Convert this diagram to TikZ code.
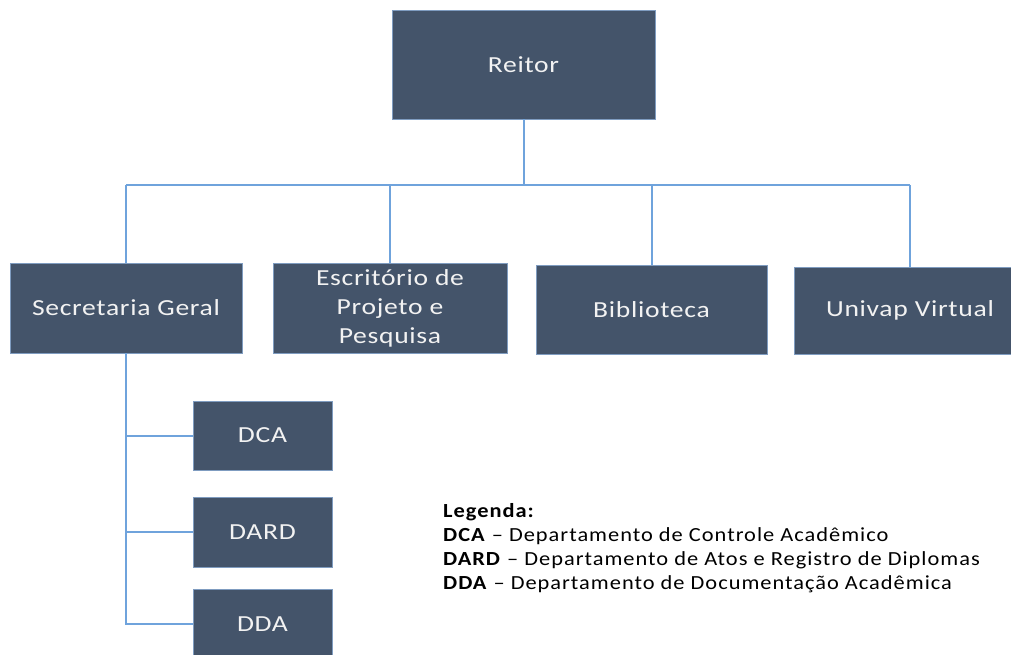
\documentclass[tikz,border=0pt]{standalone}
\usepackage{fontspec}
\setmainfont{Carlito}
\newfontfamily\boxfont[FakeStretch=1.2,LetterSpace=3]{Carlito}
\newfontfamily\legfont[FakeStretch=1.12,LetterSpace=5]{Carlito}
\definecolor{boxfill}{HTML}{44546A}
\definecolor{boxedge}{HTML}{7F9CC0}
\definecolor{linkc}{HTML}{6FA3DC}
\definecolor{boxtext}{HTML}{F2F2F2}
\begin{document}
\begin{tikzpicture}[x=1pt,y=-1pt,
  orgbox/.style={fill=boxfill,draw=boxedge,line width=0.8pt,text=boxtext,
    font=\boxfont\fontsize{23}{29}\selectfont,align=center,inner sep=0pt},
  link/.style={draw=linkc,line width=2pt}]
\useasboundingbox (0,0) rectangle (1011,655);
\node[orgbox,minimum width=263pt,minimum height=109pt] (reitor) at (523.5,64.5) {Reitor};
\node[orgbox,minimum width=232pt,minimum height=90pt] (sg) at (126,308) {Secretaria Geral};
\node[orgbox,minimum width=234pt,minimum height=90pt] (esc) at (390,308) {Escritório de\\Projeto e\\Pesquisa};
\node[orgbox,minimum width=231pt,minimum height=89pt] (bib) at (651.5,309.5) {Biblioteca};
\node[orgbox,minimum width=232pt,minimum height=87pt] (uni) at (910,310.5) {Univap Virtual};
\node[orgbox,minimum width=139pt,minimum height=69pt] (dca) at (262.5,435.5) {DCA};
\node[orgbox,minimum width=139pt,minimum height=70pt] (dard) at (262.5,532) {DARD};
\node[orgbox,minimum width=139pt,minimum height=70pt] (dda) at (262.5,624) {DDA};
\coordinate (bus) at (523.5,185);
\draw[link] (reitor.south) -- (reitor.south |- bus);
\draw[link] (sg.north |- bus) -- (uni.north |- bus);
\draw[link] (sg.north |- bus) -- (sg.north);
\draw[link] (esc.north |- bus) -- (esc.north);
\draw[link] (bib.north |- bus) -- (bib.north);
\draw[link] (uni.north |- bus) -- (uni.north);
\draw[link] (sg.south) -- (sg.south |- dda.west) -- (dda.west);
\draw[link] (sg.south |- dca.west) -- (dca.west);
\draw[link] (sg.south |- dard.west) -- (dard.west);
\node[anchor=north west,align=left,inner sep=0pt,font=\legfont\fontsize{20}{24}\selectfont] (leg) at (443,503)
{\textbf{Legenda:}\\
\textbf{DCA} – Departamento de Controle Acadêmico\\
\textbf{DARD} – Departamento de Atos e Registro de Diplomas\\
\textbf{DDA} – Departamento de Documentação Acadêmica};
\end{tikzpicture}
\end{document}
